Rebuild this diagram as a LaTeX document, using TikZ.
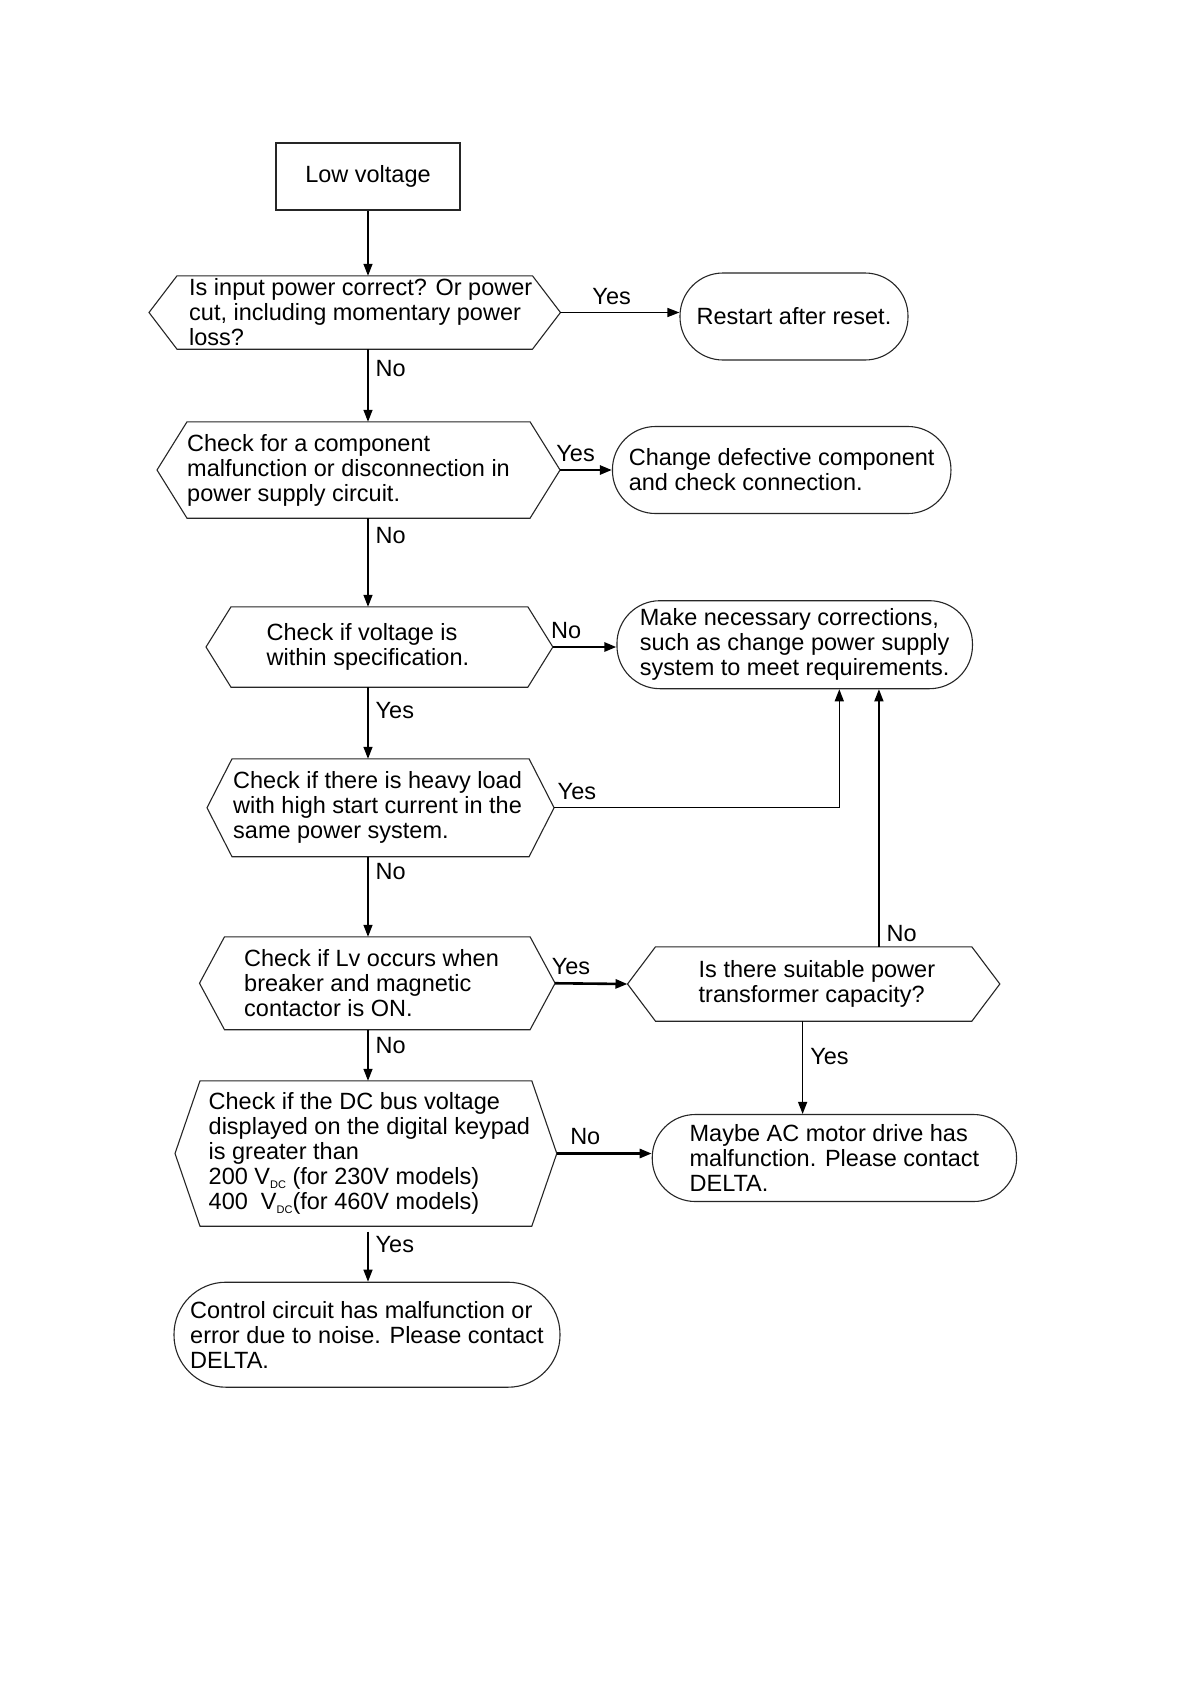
\documentclass[tikz,border=0pt]{standalone}
\usepackage{fontspec}
\setmainfont{Liberation Sans}
\usepackage{tikz}
\usetikzlibrary{positioning,arrows.meta}

\tikzset{
  txt/.style={font=\fontsize{23.5}{25}\selectfont, align=left, inner sep=0pt},
  frame/.style={line width=1.1pt, draw=black!85},
  decision/.style={txt, rectangle, anchor=west},
  terminal/.style={txt, frame, rounded corners=43pt},
  arrow/.style={line width=1.3pt, -{Triangle[length=12pt,width=9pt]}},
  heavy/.style={arrow, line width=2.6pt},
  lbl/.style={font=\fontsize{23.5}{25}\selectfont, inner sep=7pt},
}

% hexagon round a decision text: #2,#3 = room left/right of the text, #4 = tip
\newcommand{\hexframe}[4]{%
  \draw[frame] ([xshift=-#2-#4]#1.west) -- ([xshift=-#2]#1.north west) -- ([xshift=#3]#1.north east)
    -- ([xshift=#3+#4]#1.east) -- ([xshift=#3]#1.south east) -- ([xshift=-#2]#1.south west) -- cycle;
  \coordinate (#1-l) at ([xshift=-#2-#4]#1.west);
  \coordinate (#1-r) at ([xshift=#3+#4]#1.east);}

\newcommand{\vdc}{V\raisebox{-4pt}{\fontsize{11}{11}\selectfont DC}}

\begin{document}
\begin{tikzpicture}[x=1pt,y=-1pt]
    \path[fill=white] (0,0) rectangle (1191,1684);

    \node[txt, frame, draw, minimum width=184, minimum height=67] (start) at (368,176.5) {Low voltage};

    \node[decision, minimum height=73] (ds1) at (189,312.5)
        {Is input power correct? Or power\\cut, including momentary power\\loss?};
    \hexframe{ds1}{12}{0}{28}
    \node[decision, minimum height=96] (ds2) at (187,470)
        {Check for a component\\malfunction or disconnection in\\power supply circuit.};
    \hexframe{ds2}{0}{20}{30}
    \node[decision, minimum height=80] (ds3) at (266.5,647)
        {Check if voltage is\\within specification.};
    \hexframe{ds3}{35.5}{58.5}{25}
    \node[decision, minimum height=97.5] (ds4) at (233,807.75)
        {Check if there is heavy load\\with high start current in the\\same power system.};
    \hexframe{ds4}{1}{7}{25}
    \node[decision, minimum height=92.5] (ds5) at (244,983.25)
        {Check if Lv occurs when\\breaker and magnetic\\contactor is ON.};
    \hexframe{ds5}{19.5}{31}{25}
    \node[decision, minimum height=145] (ds6) at (208.5,1153.5)
        {Check if the DC bus voltage\\displayed on the digital keypad\\is greater than\\200 \vdc{} (for 230V models)\\400\ \ \vdc{}(for 460V models)};
    \hexframe{ds6}{8.5}{1.5}{25}
    \node[decision, minimum height=74] (ds7) at (698.5,984)
        {Is there suitable power\\transformer capacity?};
    \hexframe{ds7}{43}{36.5}{28}

    \node[terminal, minimum width=228, minimum height=87] (t1) at (794,316.5) {Restart after reset.};
    \node[terminal, minimum width=338.5, minimum height=87] (t2) at (781.7,470)
        {Change defective component\\and check connection.};
    \node[terminal, minimum width=355.5, minimum height=88] (t3) at (794.7,644.7)
        {Make necessary corrections,\\such as change power supply\\system to meet requirements.};
    \node[terminal, minimum width=364.3, minimum height=87] (t4) at (834.4,1158)
        {Maybe AC motor drive has\\malfunction. Please contact\\DELTA.};
    \node[terminal, rounded corners=52pt, minimum width=386, minimum height=105] (t5) at (367,1334.7)
        {Control circuit has malfunction or\\error due to noise. Please contact\\DELTA.};

    % main column
    \draw[arrow] (start) -- (start |- ds1.north);
    \draw[arrow] (ds1.south -| start) -- node[lbl, right, pos=0.27]{No} (ds2.north -| start);
    \draw[arrow] (ds2.south -| start) -- node[lbl, right, pos=0.19]{No} (ds3.north -| start);
    \draw[arrow] (ds3.south -| start) -- node[lbl, right, pos=0.33]{Yes} (ds4.north -| start);
    \draw[arrow] (ds4.south -| start) -- node[lbl, right, pos=0.19]{No} (ds5.north -| start);
    \draw[arrow] (ds5.south -| start) -- node[lbl, right, pos=0.31]{No} (ds6.north -| start);
    \draw[arrow, shorten <=5.5pt] (ds6.south -| start) -- node[lbl, right, pos=0.33]{Yes} (t5.north -| start);

    % branches to the right
    \draw[arrow] (ds1-r) -- node[lbl, above, pos=0.43]{Yes} (ds1-r -| t1.west);
    \draw[heavy] (ds2-r) -- node[lbl, above, pos=0.3]{Yes} (ds2-r -| t2.west);
    \draw[heavy] (ds3-r) -- node[lbl, above, pos=0.21]{No} (ds3-r -| t3.west);
    \draw[heavy] (ds5-r) -- node[lbl, above, pos=0.22]{Yes} (ds7-l);
    \draw[heavy] (ds6-r) -- node[lbl, above, pos=0.3]{No} (ds6-r -| t4.west);

    \coordinate (up1) at ([xshift=44.6]t3.south);
    \draw[arrow] (ds4-r) -- node[lbl, above, pos=0.08]{Yes} (ds4-r -| up1) -- (up1);
    \coordinate (up2) at ([xshift=62]ds7.north);
    \draw[arrow] (up2) -- node[lbl, right, pos=0.05]{No} (up2 |- t3.south);
    \coordinate (dn1) at ([xshift=-14.3]ds7.south);
    \draw[arrow] (dn1) -- node[lbl, right, pos=0.38]{Yes} (dn1 |- t4.north);
\end{tikzpicture}
\end{document}
